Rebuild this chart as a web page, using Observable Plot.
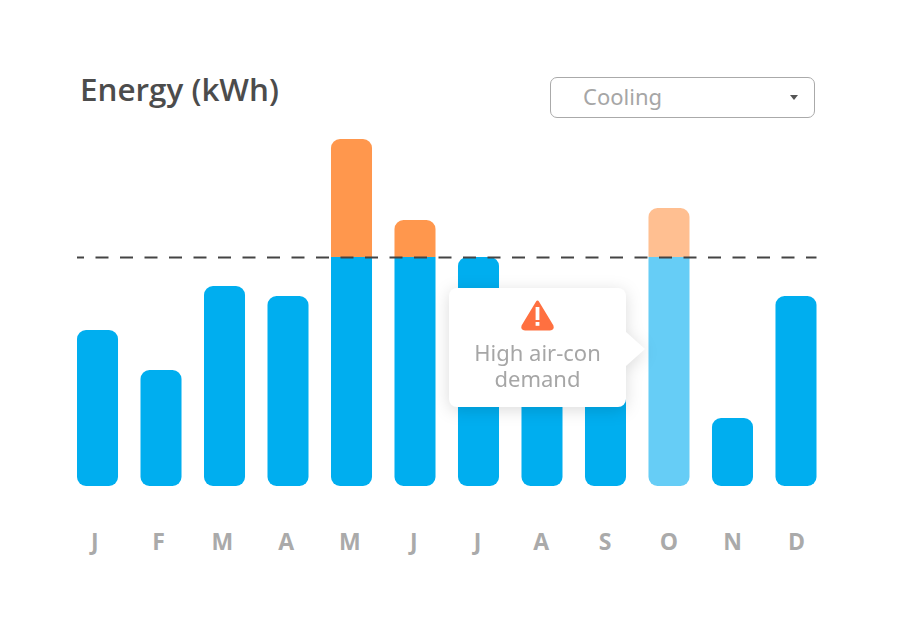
<!DOCTYPE html>
<html>
<head>
<meta charset="utf-8">
<script src="https://cdn.jsdelivr.net/npm/d3@7"></script>
<script src="https://cdn.jsdelivr.net/npm/@observablehq/plot@0.6"></script>
<style>
html,body{margin:0;padding:0;background:#fff;overflow:hidden}
#wrap{position:relative;width:898px;height:637px;font-family:"Noto Sans",sans-serif}
#chart svg{position:absolute;left:0;top:0}
#title{position:absolute;left:80px;top:67px;font-family:"Open Sans",sans-serif;font-size:31.4px;line-height:44px;font-weight:600;color:#4c4c4c;white-space:nowrap}
#select{position:absolute;left:550px;top:77px;width:263px;height:39px;border:1px solid #aaa;border-radius:7px;background:#fff}
#select span{position:absolute;left:32px;top:2px;font-size:22px;line-height:32px;color:#a6a6a6}
#select i{position:absolute;right:16px;top:17px;width:0;height:0;border-left:4.5px solid transparent;border-right:4.5px solid transparent;border-top:5.5px solid #555}
#tip{position:absolute;left:449px;top:288px;width:177px;height:119px;filter:drop-shadow(0 3px 8px rgba(0,0,0,.14));text-align:center;color:#a6a6a6;font-size:22px;line-height:26px}
#tip .card{position:absolute;inset:0;background:#fff;border-radius:8px}
#tip .nub{position:absolute;left:177px;top:44px;width:0;height:0;border-top:17px solid transparent;border-bottom:17px solid transparent;border-left:19px solid #fff}
#tip svg{position:absolute;left:71px;top:11px}
#tip .msg{position:absolute;left:0;right:0;top:51px}
</style>
</head>
<body>
<div id="wrap">
  <div id="title">Energy (kWh)</div>
  <div id="select"><span>Cooling</span><i></i></div>
  <div id="chart"></div>
  <div id="tip">
    <div class="card"></div><div class="nub"></div>
    <svg width="35" height="33" viewBox="0 0 35 33"><path d="M17.5 3 L32 27 Q33 30 30 30 L5 30 Q2 30 3 27 Z" fill="#ff7040" stroke="#ff7040" stroke-width="3" stroke-linejoin="round"/><rect x="15.6" y="8" width="3.8" height="13" fill="#fff"/><rect x="15.6" y="23" width="3.8" height="3.8" fill="#fff"/></svg>
    <div class="msg">High air-con<br>demand</div>
  </div>
</div>
<script>
const months = ["J","F","M","A","M ","J ","J  ","A ","S","O","N","D"];
const labels = ["J","F","M","A","M","J","J","A","S","O","N","D"];
const energy = [156,116,200,190,347,266,229,125,135,278,68,190];
const limit = 229;
const highlighted = "O";
const blue = "#00aeef", blueLight = "#66cdf6", orange = "#ff974d", orangeLight = "#ffbf91";

const rows = months.map((m,i)=>({m, v:energy[i]}));
const under = rows.filter(d=>d.v<=limit);
const capped = rows.filter(d=>d.v>limit);
const blueFill = d=>d.m===highlighted?blueLight:blue;
const orangeFill = d=>d.m===highlighted?orangeLight:orange;

const chart = Plot.plot({
  width:898, height:637,
  marginLeft:77, marginRight:81.5, marginTop:0, marginBottom:0,
  style:{background:"transparent",fontFamily:"'Open Sans',sans-serif"},
  x:{domain:months, paddingInner:0.354, paddingOuter:0, align:0.5, round:false, label:null, axis:null},
  y:{domain:[0,400], range:[486,86], axis:null},
  marks:[
    Plot.barY(under,{x:"m",y1:0,y2:"v",fill:blueFill,r:9}),
    Plot.barY(capped,{x:"m",y1:0,y2:limit,fill:blueFill,ry2:9}),
    Plot.barY(capped,{x:"m",y1:limit,y2:"v",fill:orangeFill,ry1:9}),
    Plot.ruleY([limit],{stroke:"#444",strokeWidth:2,strokeDasharray:"13 11.5",strokeDashoffset:6}),
    // the reference's month labels run on a slightly wider step than its bars
    ...rows.map((d,i)=>Plot.text([d],{x:"m",y:-56.5,text:()=>labels[i],dx:-3.3+0.3*i,fill:"#aaa",fontSize:23,fontWeight:700}))
  ]
});
document.getElementById("chart").append(chart);
</script>
</body>
</html>
